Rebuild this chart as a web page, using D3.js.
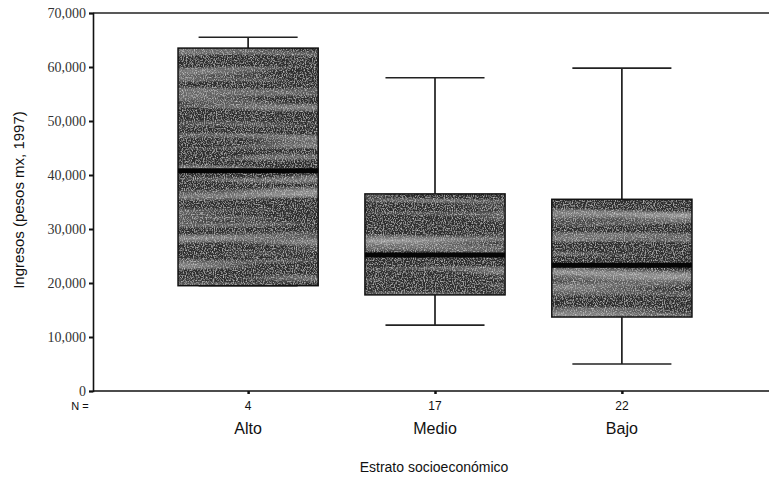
<!DOCTYPE html>
<html>
<head>
<meta charset="utf-8">
<script src="https://cdn.jsdelivr.net/npm/d3@7"></script>
<style>
  body { margin: 0; background: #fff; }
  svg { display: block; }
  .ytick text { font-family: "Liberation Serif", "DejaVu Serif", serif; font-size: 14px; fill: #333; }
  .lbl { font-family: "Liberation Sans", Arial, sans-serif; fill: #111; }
</style>
</head>
<body>
<svg width="769" height="481"></svg>
<script>
// categories and box stats (pesos mx, 1997)
var categories = ["Alto", "Medio", "Bajo"];
var counts = [4, 17, 22];
var mins = [19500, 12200, 5000];
var q1s = [19500, 17800, 13700];
var medians = [40800, 25200, 23300];
var q3s = [63500, 36500, 35500];
var maxs = [65500, 58000, 59800];
var yTicks = [0, 10000, 20000, 30000, 40000, 50000, 60000, 70000];

var svg = d3.select("svg"),
  width = +svg.attr("width"),
  height = +svg.attr("height");

// note: "top" is taken by window.top
var plotLeft = 93, plotTop = 13, plotBottom = 391;

var x = d3.scalePoint()
  .domain(categories)
  .range([plotLeft, 777])
  .padding(0.83);

var y = d3.scaleLinear()
  .domain([0, 70000])
  .range([plotBottom, plotTop]);

var step = x.step();
var boxW = step * 0.75;
var capW = step * 0.53;

// texture for the boxes, looks like the scanned dither
var defs = svg.append("defs");
var f = defs.append("filter").attr("id", "grain")
  .attr("x", 0).attr("y", 0).attr("width", 1).attr("height", 1);
f.append("feTurbulence")
  .attr("type", "fractalNoise")
  .attr("baseFrequency", "0.9 0.7")
  .attr("numOctaves", 2)
  .attr("seed", 3)
  .attr("result", "fine");
f.append("feColorMatrix")
  .attr("in", "fine")
  .attr("type", "matrix")
  .attr("values", "0 0 0 0 0.85  0 0 0 0 0.85  0 0 0 0 0.85  1.5 0 0 0 -0.7")
  .attr("result", "speck");
f.append("feTurbulence")
  .attr("type", "fractalNoise")
  .attr("baseFrequency", "0.004 0.09")
  .attr("numOctaves", 2)
  .attr("seed", 7)
  .attr("result", "band");
f.append("feColorMatrix")
  .attr("in", "band")
  .attr("type", "matrix")
  .attr("values", "0 0 0 0 0.8  0 0 0 0 0.8  0 0 0 0 0.8  0.9 0 0 0 -0.42")
  .attr("result", "bandw");
f.append("feMerge").selectAll("feMergeNode")
  .data(["SourceGraphic", "bandw", "speck"])
  .enter().append("feMergeNode")
  .attr("in", d => d);

var data = categories.map(function(c, i) {
  return {cat: c, n: counts[i], min: mins[i], q1: q1s[i], med: medians[i], q3: q3s[i], max: maxs[i]};
});

// frame: top line
svg.append("line")
  .attr("x1", plotLeft).attr("x2", width)
  .attr("y1", plotTop).attr("y2", plotTop)
  .attr("stroke", "#222").attr("stroke-width", 1.5);

var g = svg.append("g").attr("class", "boxes");

var box = g.selectAll(".box")
  .data(data)
  .enter().append("g")
  .attr("class", "box");

// whiskers
box.append("line")
  .attr("x1", d => x(d.cat)).attr("x2", d => x(d.cat))
  .attr("y1", d => y(d.max)).attr("y2", d => y(d.q3))
  .attr("stroke", "#111").attr("stroke-width", 1.6);
box.append("line")
  .attr("x1", d => x(d.cat)).attr("x2", d => x(d.cat))
  .attr("y1", d => y(d.q1)).attr("y2", d => y(d.min))
  .attr("stroke", "#111").attr("stroke-width", 1.6);
box.selectAll(".cap")
  .data(d => [{c: d.cat, v: d.max}, {c: d.cat, v: d.min}])
  .enter().append("line")
  .attr("class", "cap")
  .attr("x1", d => x(d.c) - capW / 2).attr("x2", d => x(d.c) + capW / 2)
  .attr("y1", d => y(d.v)).attr("y2", d => y(d.v))
  .attr("stroke", "#222").attr("stroke-width", 1.6);

// boxes
box.append("rect")
  .attr("x", d => x(d.cat) - boxW / 2)
  .attr("width", boxW)
  .attr("y", d => y(d.q3))
  .attr("height", d => y(d.q1) - y(d.q3))
  .attr("fill", "#2e2e2e")
  .attr("filter", "url(#grain)");
box.append("rect")
  .attr("x", d => x(d.cat) - boxW / 2)
  .attr("width", boxW)
  .attr("y", d => y(d.q3))
  .attr("height", d => y(d.q1) - y(d.q3))
  .attr("fill", "none")
  .attr("stroke", "#111").attr("stroke-width", 1.5);

// median
box.append("line")
  .attr("x1", d => x(d.cat) - boxW / 2).attr("x2", d => x(d.cat) + boxW / 2)
  .attr("y1", d => y(d.med)).attr("y2", d => y(d.med))
  .attr("stroke", "#050505").attr("stroke-width", 5);

// y axis
var yAxis = svg.append("g")
  .attr("class", "ytick")
  .attr("transform", "translate(" + plotLeft + ",0)")
  .call(d3.axisLeft(y).tickValues(yTicks).tickFormat(d3.format(",")).tickSize(4).tickPadding(3));
yAxis.select(".domain").attr("stroke", "#111").attr("stroke-width", 1.6);
yAxis.selectAll(".tick line").attr("stroke", "#111").attr("stroke-width", 2);

// x axis
var xAxis = svg.append("g")
  .attr("transform", "translate(0," + plotBottom + ")")
  .call(d3.axisBottom(x).tickSize(3).tickFormat(""));
xAxis.select(".domain").attr("d", "M" + plotLeft + ",0H" + width).attr("stroke", "#111").attr("stroke-width", 1.6);
xAxis.selectAll(".tick line").attr("stroke", "#111").attr("stroke-width", 2.5);

// N = counts
svg.append("text")
  .attr("class", "lbl")
  .attr("x", 80).attr("y", 410)
  .attr("font-size", 11)
  .attr("text-anchor", "middle")
  .text("N =");
svg.selectAll(".ncount")
  .data(data)
  .enter().append("text")
  .attr("class", "lbl ncount")
  .attr("x", d => x(d.cat)).attr("y", 410)
  .attr("font-size", 12)
  .attr("text-anchor", "middle")
  .text(d => d.n);

// category labels
svg.selectAll(".catlbl")
  .data(data)
  .enter().append("text")
  .attr("class", "lbl catlbl")
  .attr("x", d => x(d.cat)).attr("y", 434)
  .attr("font-size", 16)
  .attr("text-anchor", "middle")
  .text(d => d.cat);

// axis titles
svg.append("text")
  .attr("class", "lbl")
  .attr("x", 434).attr("y", 472)
  .attr("font-size", 14)
  .attr("text-anchor", "middle")
  .text("Estrato socioeconómico");

svg.append("text")
  .attr("class", "lbl")
  .attr("transform", "translate(24,200) rotate(-90)")
  .attr("font-size", 15)
  .attr("text-anchor", "middle")
  .text("Ingresos (pesos mx, 1997)");
</script>
</body>
</html>
